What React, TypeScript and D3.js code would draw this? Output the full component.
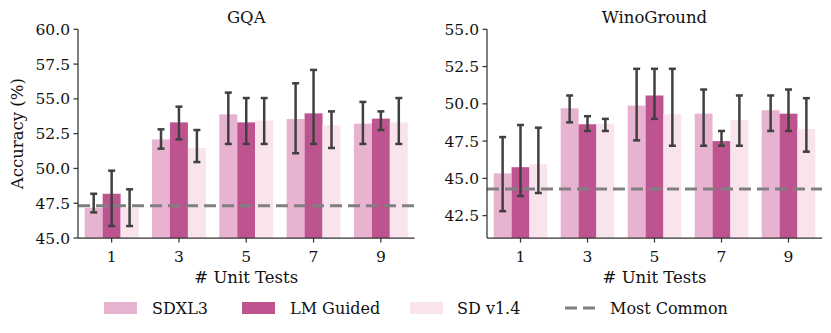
import React from "react";
import * as d3 from "d3";

const categories = ["1", "3", "5", "7", "9"];
const seriesNames = ["SDXL3", "LM Guided", "SD v1.4"];
const seriesColors = ["#e8b3d0", "#bd5490", "#f9e4ee"];

// GQA
const gqaSDXL3 = [47.17, 52.09, 53.89, 53.55, 53.22];
const gqaSDXL3Lo = [46.84, 51.42, 51.76, 51.09, 51.76];
const gqaSDXL3Hi = [48.18, 52.81, 55.45, 56.12, 54.78];
const gqaLM = [48.18, 53.31, 53.31, 53.96, 53.58];
const gqaLMLo = [45.86, 52.09, 51.76, 51.76, 52.76];
const gqaLMHi = [49.84, 54.44, 55.06, 57.08, 54.1];
const gqaSD = [47.17, 51.47, 53.43, 53.1, 53.31];
const gqaSDLo = [45.86, 50.46, 51.76, 51.47, 51.76];
const gqaSDHi = [48.5, 52.76, 55.06, 54.1, 55.06];
const gqaMostCommon = 47.32;
const gqaTicks = [45.0, 47.5, 50.0, 52.5, 55.0, 57.5, 60.0];
const gqaDomain = [45, 60];

// WinoGround
const winoSDXL3 = [45.33, 49.7, 49.88, 49.34, 49.57];
const winoSDXL3Lo = [42.8, 48.76, 47.55, 47.19, 48.18];
const winoSDXL3Hi = [47.77, 50.56, 52.35, 50.96, 50.56];
const winoLM = [45.75, 48.63, 50.56, 47.5, 49.34];
const winoLMLo = [43.82, 48.18, 48.99, 47.19, 48.18];
const winoLMHi = [48.58, 49.17, 52.35, 48.18, 50.96];
const winoSD = [45.94, 48.67, 49.3, 48.9, 48.31];
const winoSDLo = [44.02, 48.18, 47.19, 47.19, 46.79];
const winoSDHi = [48.4, 48.99, 52.35, 50.56, 50.38];
const winoMostCommon = 44.28;
const winoTicks = [42.5, 45.0, 47.5, 50.0, 52.5, 55.0];
const winoDomain = [41, 55];

const FONT = "'DejaVu Serif', 'Liberation Serif', serif";
const AXIS_COLOR = "#333333";
const ERR_COLOR = "#404040";
const DASH_COLOR = "#808080";

type PanelProps = {
  x0: number;
  x1: number;
  title: string;
  domain: number[];
  ticks: number[];
  values: number[][];
  lows: number[][];
  highs: number[][];
  baseline: number;
  showYLabel: boolean;
};

const TOP = 29.3;
const BOTTOM = 238;

function Panel(p: PanelProps) {
  const x = d3.scaleBand<string>().domain(categories).range([p.x0, p.x1]).paddingInner(0.2).paddingOuter(0.1);
  const xs = d3.scaleBand<string>().domain(seriesNames).range([0, x.bandwidth()]).padding(0);
  const y = d3.scaleLinear().domain(p.domain).range([BOTTOM, TOP]);
  const capHalf = 3.5;
  return (
    <g>
      {seriesNames.map((s, si) =>
        categories.map((c, ci) => (
          <rect
            key={`b-${si}-${ci}`}
            x={(x(c) as number) + (xs(s) as number)}
            y={y(p.values[si][ci])}
            width={xs.bandwidth()}
            height={BOTTOM - y(p.values[si][ci])}
            fill={seriesColors[si]}
          />
        ))
      )}
      <line
        x1={p.x0}
        x2={p.x1}
        y1={y(p.baseline)}
        y2={y(p.baseline)}
        stroke={DASH_COLOR}
        strokeWidth={3}
        strokeDasharray="12,6"
      />
      {seriesNames.map((s, si) =>
        categories.map((c, ci) => {
          const cx = (x(c) as number) + (xs(s) as number) + xs.bandwidth() / 2;
          const ylo = y(p.lows[si][ci]);
          const yhi = y(p.highs[si][ci]);
          return (
            <g key={`e-${si}-${ci}`} stroke={ERR_COLOR} strokeWidth={2.5}>
              <line x1={cx} x2={cx} y1={ylo} y2={yhi} />
              <line x1={cx - capHalf} x2={cx + capHalf} y1={ylo} y2={ylo} />
              <line x1={cx - capHalf} x2={cx + capHalf} y1={yhi} y2={yhi} />
            </g>
          );
        })
      )}
      <line x1={p.x0} x2={p.x0} y1={TOP} y2={BOTTOM} stroke={AXIS_COLOR} strokeWidth={1.25} />
      <line x1={p.x0} x2={p.x1} y1={BOTTOM} y2={BOTTOM} stroke={AXIS_COLOR} strokeWidth={1.25} />
      {p.ticks.map((t) => (
        <g key={`yt-${t}`}>
          <line x1={p.x0 - 4.5} x2={p.x0} y1={y(t)} y2={y(t)} stroke={AXIS_COLOR} strokeWidth={1.25} />
          <text
            x={p.x0 - 8}
            y={y(t)}
            dy="0.36em"
            textAnchor="end"
            style={{ fontFamily: FONT }}
            fontSize={15.5}
            fill="#111"
          >
            {t.toFixed(1)}
          </text>
        </g>
      ))}
      {categories.map((c) => {
        const cx = (x(c) as number) + x.bandwidth() / 2;
        return (
          <g key={`xt-${c}`}>
            <line x1={cx} x2={cx} y1={BOTTOM} y2={BOTTOM + 4.5} stroke={AXIS_COLOR} strokeWidth={1.25} />
            <text x={cx} y={262} textAnchor="middle" style={{ fontFamily: FONT }} fontSize={15.5} fill="#111">
              {c}
            </text>
          </g>
        );
      })}
      <text x={(p.x0 + p.x1) / 2} y={283} textAnchor="middle" style={{ fontFamily: FONT }} fontSize={16.5} fill="#111">
        # Unit Tests
      </text>
      <text x={(p.x0 + p.x1) / 2} y={22.5} textAnchor="middle" style={{ fontFamily: FONT }} fontSize={16.5} fill="#111">
        {p.title}
      </text>
      {p.showYLabel && (
        <text
          transform={`translate(23, ${(TOP + BOTTOM) / 2}) rotate(-90)`}
          textAnchor="middle"
          style={{ fontFamily: FONT }}
          fontSize={16.5}
          fill="#111"
        >
          Accuracy (%)
        </text>
      )}
    </g>
  );
}

export default function App() {
  const legendItems = [
    { label: seriesNames[0], color: seriesColors[0], x: 104, tx: 152, kind: "patch" },
    { label: seriesNames[1], color: seriesColors[1], x: 242, tx: 290, kind: "patch" },
    { label: seriesNames[2], color: seriesColors[2], x: 410, tx: 457, kind: "patch" },
    { label: "Most Common", color: DASH_COLOR, x: 565, tx: 610, kind: "line" },
  ];
  return (
    <svg width={831} height={333} style={{ display: "block", position: "absolute", left: 0, top: 0 }}>
      <rect width={831} height={333} fill="#ffffff" />
      <Panel
        x0={78}
        x1={414.5}
        title="GQA"
        domain={gqaDomain}
        ticks={gqaTicks}
        values={[gqaSDXL3, gqaLM, gqaSD]}
        lows={[gqaSDXL3Lo, gqaLMLo, gqaSDLo]}
        highs={[gqaSDXL3Hi, gqaLMHi, gqaSDHi]}
        baseline={gqaMostCommon}
        showYLabel={true}
      />
      <Panel
        x0={487}
        x1={822}
        title="WinoGround"
        domain={winoDomain}
        ticks={winoTicks}
        values={[winoSDXL3, winoLM, winoSD]}
        lows={[winoSDXL3Lo, winoLMLo, winoSDLo]}
        highs={[winoSDXL3Hi, winoLMHi, winoSDHi]}
        baseline={winoMostCommon}
        showYLabel={false}
      />
      {legendItems.map((it) => (
        <g key={it.label}>
          {it.kind === "patch" ? (
            <rect x={it.x} y={302} width={33} height={12} fill={it.color} />
          ) : (
            <line
              x1={it.x}
              x2={it.x + 33}
              y1={308}
              y2={308}
              stroke={it.color}
              strokeWidth={3}
              strokeDasharray="12,6"
            />
          )}
          <text x={it.tx} y={308} dy="0.36em" style={{ fontFamily: FONT }} fontSize={16} fill="#111">
            {it.label}
          </text>
        </g>
      ))}
    </svg>
  );
}
